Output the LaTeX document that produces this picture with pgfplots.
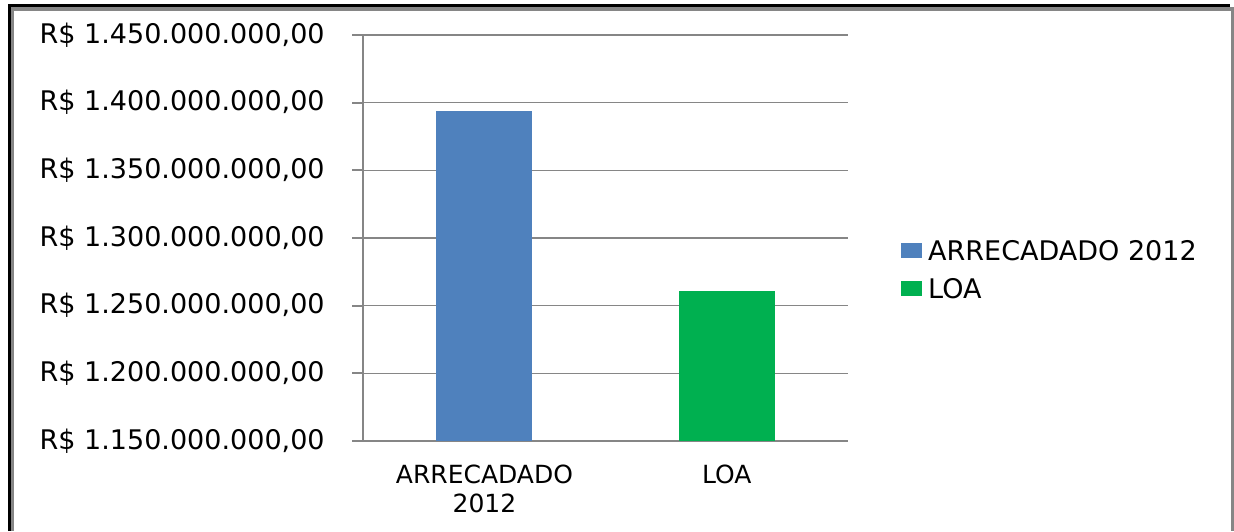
\documentclass[border=0pt]{standalone}
\usepackage{pgfplots}
\pgfplotsset{compat=1.18}
\usepackage{fontspec}
\setmainfont{DejaVu Sans}
\definecolor{barblue}{HTML}{4F81BD}
\definecolor{bargreen}{HTML}{00B050}
\definecolor{axgray}{HTML}{868686}
\begin{document}
\begin{tikzpicture}
\path[use as bounding box] (0,0) rectangle (617pt,265.5pt);
% frame
\draw[black,line width=1.6pt] (4.6pt,0) -- (4.6pt,262.6pt) -- (615pt,262.6pt);
\draw[axgray,line width=1.6pt] (6.3pt,0) -- (6.3pt,261pt) -- (616.2pt,261pt) -- (616.2pt,0);
\begin{axis}[
  at={(181.65pt,45pt)}, anchor=south west,
  scale only axis, width=242.35pt, height=203pt,
  xmin=-0.5, xmax=1.5,
  ymin=1150000000, ymax=1450000000,
  axis lines*=left,
  axis line style={axgray, line width=0.9pt},
  ytick={1150000000,1200000000,1250000000,1300000000,1350000000,1400000000,1450000000},
  yticklabels={R\$ 1.150.000.000{,}00,R\$ 1.200.000.000{,}00,R\$ 1.250.000.000{,}00,R\$ 1.300.000.000{,}00,R\$ 1.350.000.000{,}00,R\$ 1.400.000.000{,}00,R\$ 1.450.000.000{,}00},
  scaled y ticks=false,
  ymajorgrids,
  grid style={axgray, line width=0.6pt},
  tick align=outside,
  major tick length=5.5pt,
  tick style={axgray, line width=0.9pt},
  yticklabel style={font=\fontsize{13.5}{16}\selectfont, anchor=east, inner sep=0pt, xshift=-13.6pt},
  xtick={0,1},
  xticklabels={ARRECADADO\\2012, LOA},
  xtick style={draw=none},
  xticklabel style={font=\fontsize{12.5}{14.2}\selectfont, align=center, anchor=north, inner sep=0pt, yshift=-6.5pt},
  extra x ticks={-0.5,0.5,1.5},
  extra x tick labels={},
  extra x tick style={grid=none, major tick length=3.2pt, tick style={axgray, line width=0.9pt, draw=axgray}},
  legend style={at={(1.109,0.495)}, anchor=north west, draw=none, fill=none,
    font=\fontsize{13.5}{16}\selectfont, inner sep=0pt, row sep=9pt,
    nodes={inner sep=0pt, text height=10pt, text depth=0pt}},
  legend cell align=left,
  legend image code/.code={\fill[#1,draw=none] (0pt,-3.75pt) rectangle (10.5pt,3.75pt); \path (13.5pt,0pt);},
  clip=true,
]
\addplot[ybar, bar width=48pt, bar shift=0pt, fill=barblue, draw=none] coordinates {(0,1393600000)};
\addlegendentry{ARRECADADO 2012}
\addplot[ybar, bar width=48pt, bar shift=0pt, fill=bargreen, draw=none] coordinates {(1,1260900000)};
\addlegendentry{LOA}
\end{axis}
\end{tikzpicture}
\end{document}
